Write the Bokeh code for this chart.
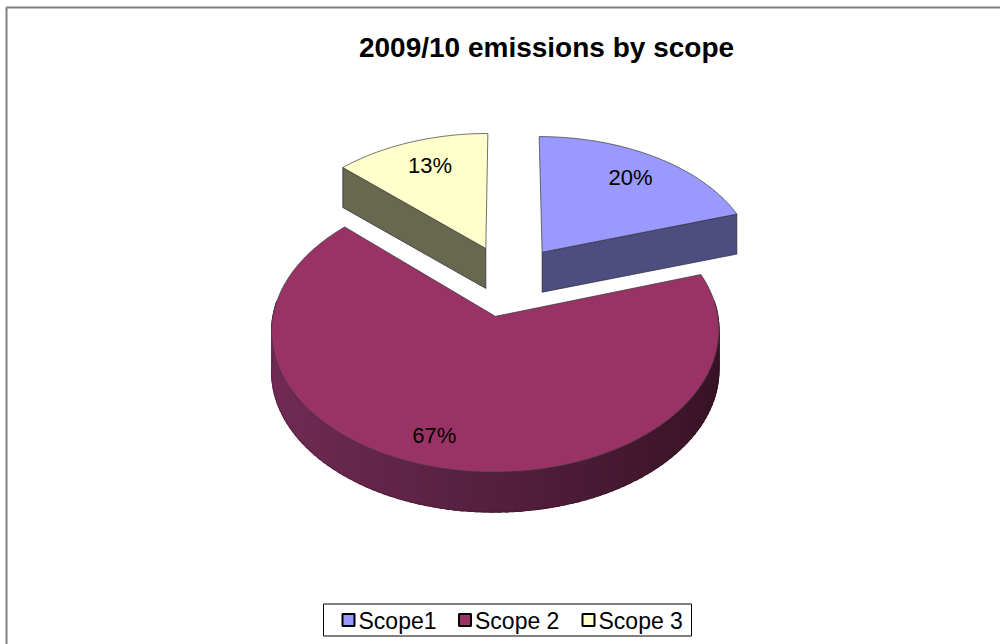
import numpy as np
from bokeh.plotting import figure
from bokeh.models import Range1d, Label
from bokeh.core.properties import value
from bokeh.embed import file_html
from bokeh.resources import INLINE

# ---------------- data ----------------
title_text = "2009/10 emissions by scope"
categories = ["Scope1", "Scope 2", "Scope 3"]
shares = [20, 67, 13]                 # percent of 2009/10 emissions
top_colors = ["#9999FF", "#993366", "#FFFFCC"]
side_colors = ["#4D4D80", "#993366", "#68684E"]

# ---------------- 3D pie geometry (layout / style) ----------------
CX, CY = 508.0, 280.0      # projected centre of the pie (px)
A, B = 216.6, 132.5        # projected radii
K = 0.10                   # perspective factor
DEPTH = 40                 # thickness in px
EXPLODE = 0.27             # explosion as fraction of radius
LABEL_R = [0.77, 0.82, 0.76]
LABEL_DA = [0.0, 5.0, 1.0]  # small angular nudge of labels (deg)

FONT = "Liberation Sans"


def project(X, Y, down=0.0):
    X = np.asarray(X, dtype=float)
    Y = np.asarray(Y, dtype=float)
    d = 1 + K * Y
    return CX + A * X / d, CY - B * Y / d + down


p = figure(width=1000, height=644, x_range=Range1d(0, 1000), y_range=Range1d(644, 0),
           x_axis_type=None, y_axis_type=None, toolbar_location=None,
           output_backend="svg", min_border=0, outline_line_color=None,
           background_fill_color="white", border_fill_color="white")
p.grid.visible = False

# chart-area border
p.quad(left=[6], right=[1012], top=[7], bottom=[660], fill_color=None,
       line_color="#808080", line_width=2)

total = float(sum(shares))
bounds = np.concatenate([[0], np.cumsum(shares)]) / total * 2 * np.pi

slices = []
for i in range(len(shares)):
    t0, t1 = bounds[i], bounds[i + 1]
    mid = 0.5 * (t0 + t1)
    ox, oy = EXPLODE * np.sin(mid), EXPLODE * np.cos(mid)
    slices.append((i, t0, t1, mid, ox, oy))

# far slices first
order = sorted(slices, key=lambda s: -s[5])


def lerp_col(c1, c2, f):
    r = int(round(c1[0] + (c2[0] - c1[0]) * f))
    g = int(round(c1[1] + (c2[1] - c1[1]) * f))
    b = int(round(c1[2] + (c2[2] - c1[2]) * f))
    return "#%02x%02x%02x" % (r, g, b)


light = (114, 44, 86)
dark = (56, 19, 37)

for (i, t0, t1, mid, ox, oy) in order:
    n = max(10, int((t1 - t0) / 0.01))
    ts = np.linspace(t0, t1, n)
    ax = ox + np.sin(ts)
    ay = oy + np.cos(ts)

    # --- outer curved wall (front part) ---
    sel = np.cos(ts) < 0.12
    if sel.any():
        px, py = project(ax[sel], ay[sel])
        # base wall in a middle tone
        p.patch(np.concatenate([px, px[::-1]]),
                np.concatenate([py, py[::-1] + DEPTH]),
                fill_color=lerp_col(light, dark, 0.5), line_color=None)
        idx = np.where(sel)[0]
        xs_w, ys_w, cols = [], [], []
        step = 3
        for j0 in range(idx[0], idx[-1], step):
            j1 = min(j0 + step + 1, idx[-1])
            if j1 <= j0:
                continue
            qx, qy = project(ax[j0:j1 + 1], ay[j0:j1 + 1])
            xs_w.append(list(qx) + list(qx[::-1]))
            ys_w.append(list(qy) + list(qy[::-1] + DEPTH))
            f = 0.5 * (np.sin(ts[j0]) + 1)
            cols.append(lerp_col(light, dark, f))
        p.patches(xs_w, ys_w, fill_color=cols, line_color=cols, line_width=1.2)
        bx, by = project(ax[sel], ay[sel], DEPTH)
        p.line(bx, by, line_color="#2a1020", line_width=0.8, line_alpha=0.4)

    # --- radial walls facing the viewer ---
    for t, vis in ((t0, np.sin(t0) < -1e-6), (t1, np.sin(t1) > 1e-6)):
        if vis:
            qx, qy = project([ox, ox + np.sin(t)], [oy, oy + np.cos(t)])
            p.patch([qx[0], qx[1], qx[1], qx[0]],
                    [qy[0], qy[1], qy[1] + DEPTH, qy[0] + DEPTH],
                    fill_color=side_colors[i], line_color="#26263a", line_width=0.9,
                    line_alpha=0.8)

    # --- top face ---
    tx, ty = project(np.concatenate([[ox], ax]), np.concatenate([[oy], ay]))
    p.patch(tx, ty, fill_color=top_colors[i], line_color="#3a3a3a",
            line_width=0.9, line_alpha=0.8)

# ---------------- labels ----------------
for (i, t0, t1, mid, ox, oy) in slices:
    a = mid + np.deg2rad(LABEL_DA[i])
    lx, ly = project([ox + LABEL_R[i] * np.sin(a)], [oy + LABEL_R[i] * np.cos(a)])
    p.text(x=lx, y=ly, text=["%d%%" % shares[i]], text_align="center",
           text_baseline="middle", text_font=value(FONT), text_font_size="22px",
           text_color="black")

# ---------------- title ----------------
p.add_layout(Label(x=546, y=47, text=title_text, text_align="center",
                   text_baseline="middle", text_font=FONT, text_font_size="28px",
                   text_font_style="bold", text_color="black"))

# ---------------- legend (drawn manually) ----------------
p.quad(left=[323], right=[691], top=[603.5], bottom=[635.5], fill_color="white",
       line_color="black", line_width=1)
leg_x = [342, 458.5, 582]
for k, cat in enumerate(categories):
    p.quad(left=[leg_x[k]], right=[leg_x[k] + 12], top=[613.5], bottom=[625.5],
           fill_color=top_colors[k], line_color="black", line_width=2)
    p.text(x=[leg_x[k] + 16], y=[620], text=[cat], text_align="left",
           text_baseline="middle", text_font=value(FONT), text_font_size="23px",
           text_color="black")

open("out.html", "w").write(file_html(p, INLINE))
